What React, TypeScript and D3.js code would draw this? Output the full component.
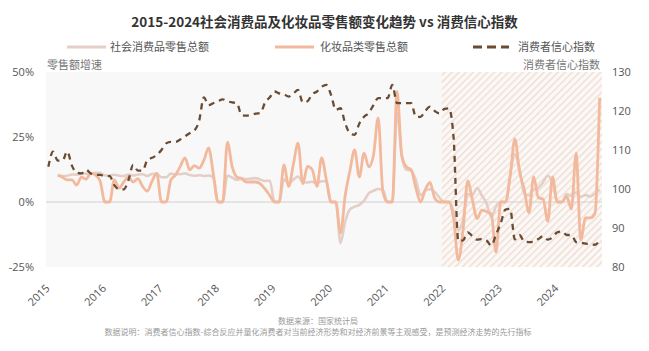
import React from 'react';
import * as d3 from 'd3';

const years = ['2015', '2016', '2017', '2018', '2019', '2020', '2021', '2022', '2023', '2024'];

// 社会消费品零售总额 当月同比 (%), monthly from 2015-01 to 2024-10
const retail: (number | null)[] = [
  null, null, 10.2, 10.0, 10.1, 10.6, 10.5, 10.8, 10.9, 11.0, 11.2, 11.1,
  10.2, 10.2, 10.5, 10.1, 10.0, 10.6, 10.2, 10.6, 10.7, 10.0, 10.8, 10.9,
  9.5, 9.5, 10.9, 10.7, 10.7, 11.0, 10.4, 10.1, 10.3, 10.0, 10.2, 9.4,
  0, 0, 10.1, 9.4, 8.5, 9.0, 8.8, 9.0, 9.2, 8.6, 8.1, 8.2,
  0, 0, 8.7, 7.2, 8.6, 9.8, 7.6, 7.5, 7.8, 7.2, 8.0, 8.0,
  0, 0, -15.8, -7.5, -2.8, -1.8, -1.1, 0.5, 3.3, 4.3, 5.0, 4.6,
  0, 0, 34.2, 17.7, 12.4, 12.1, 8.5, 2.5, 4.4, 4.9, 3.9, 1.7,
  0, 0, -3.5, -11.1, -6.7, 3.1, 2.7, 5.4, 2.5, -0.5, -5.9, -1.8,
  0, 0, 10.6, 18.4, 12.7, 3.1, 2.5, 4.6, 5.5, 7.6, 10.1, 7.4,
  0, 0, 3.1, 2.3, 3.7, 2.0, 2.7, 2.1, 3.2, 4.8,
];

// 化妆品类零售总额 当月同比 (%)
const cosmetics: (number | null)[] = [
  null, null, 10.4, 9.5, 8.5, 8.5, 6.5, 9.6, 8.8, 11.0, 10.4, 8.0,
  0, 0, 8.5, 5.3, 7.7, 9.6, 7.7, 9.0, 6.0, 4.2, 8.0, 11.0,
  0, 0, 8.5, 10.4, 13.7, 17.0, 12.4, 14.0, 13.0, 16.0, 20.8, 11.0,
  0, 0, 23.0, 13.7, 9.6, 9.0, 7.7, 7.7, 7.7, 7.0, 5.0, 2.5,
  0, 0, 14.3, 6.0, 14.5, 22.6, 7.0, 13.7, 12.4, 6.0, 17.0, 8.5,
  0, 0, -12.0, 2.5, 12.0, 20.0, 9.6, 18.8, 13.5, 18.0, 32.3, 4.0,
  0, 0, 42.5, 18.0, 13.5, 12.4, 5.3, 0, 4.8, 7.5, 1.5, 0,
  0, 0, -6.3, -22.3, -11.0, 8.1, 0.7, -6.4, -3.1, -3.7, -4.6, -19.3,
  0, 0, 9.6, 24.3, 11.7, 4.8, -4.1, 9.7, 1.6, 1.1, -7.4, 9.7,
  0, 0, 2.2, -2.7, 18.7, -14.6, -6.1, -6.1, -4.5, 40.1,
];

// 消费者信心指数
const confidence: number[] = [
  105.7, 109.6, 107.3, 107.3, 109.6, 106.0, 104.2, 104.0, 104.9, 104.0, 103.6, 103.6,
  103.3, 103.3, 101.0, 99.9, 99.9, 102.3, 106.2, 104.7, 104.7, 107.4, 108.0, 108.7,
  110.0, 111.7, 112.1, 112.1, 112.7, 113.5, 114.3, 115.0, 117.5, 123.5, 121.5, 122.0,
  122.5, 123.0, 122.5, 122.2, 122.0, 119.0, 118.8, 119.0, 119.3, 119.5, 122.2, 123.5,
  125.0, 124.5, 124.3, 123.7, 124.5, 125.4, 122.2, 122.5, 124.3, 125.0, 126.2, 126.7,
  124.1, 120.3, 120.7, 116.8, 114.3, 113.9, 116.8, 118.5, 119.5, 121.5, 123.3, 123.3,
  123.3, 126.7, 122.0, 122.0, 122.0, 122.0, 118.5, 118.5, 120.0, 121.1, 120.0, 119.4,
  120.5, 120.7, 113.2, 86.7, 86.8, 88.9, 87.9, 87.0, 87.2, 86.8, 85.5, 88.3,
  91.2, 94.7, 94.9, 87.1, 88.2, 86.5, 86.4, 86.5, 87.2, 87.9, 87.0, 87.6,
  88.9, 89.1, 88.2, 88.2, 86.4, 86.2, 86.0, 85.8, 85.7, 86.9,
];

const leftTicks = [-25, 0, 25, 50];
const rightTicks = [80, 90, 100, 110, 120, 130];

const legendItems = [
  { label: '社会消费品零售总额', key: 'retail' },
  { label: '化妆品类零售总额', key: 'cosmetics' },
  { label: '消费者信心指数', key: 'confidence' },
];

const C_RETAIL = '#e4cfc8';
const C_COS = '#f3b99d';
const C_CCI = '#6b4b32';
const CJK = '"Noto Sans CJK SC", "Noto Sans", sans-serif';
const NUM = '"Open Sans", "Noto Sans", sans-serif';

export default function App() {
  const W = 649;
  const H = 351;
  const left = 46;
  const right = 602;
  const top = 72;
  const bottom = 267;
  const n = confidence.length;

  const x = d3.scaleLinear().domain([-0.5, n - 0.5]).range([left, right]);
  const yL = d3.scaleLinear().domain([-25, 50]).range([bottom, top]);
  const yR = d3.scaleLinear().domain([80, 130]).range([bottom, top]);

  const lineL = d3
    .line<number | null>()
    .defined((d) => d !== null)
    .x((_, i) => x(i))
    .y((d) => yL(d as number))
    .curve(d3.curveMonotoneX);
  const lineR = d3
    .line<number>()
    .x((_, i) => x(i))
    .y((d) => yR(d))
    .curve(d3.curveMonotoneX);

  const hatchStart = x(84 - 0.5);

  const legendX = [67, 275, 473];
  const legendTextX = [110, 320, 518];

  return (
    <svg
      width={W}
      height={H}
      style={{ position: 'absolute', left: 0, top: 0, background: '#fff' }}
    >
      <defs>
        <pattern id="hatch" width="5" height="5" patternUnits="userSpaceOnUse" patternTransform="rotate(45)">
          <rect width="5" height="5" fill="#fbf8f6" />
          <line x1="0" y1="0" x2="0" y2="5" stroke="#eedcd2" strokeWidth="2.6" />
        </pattern>
      </defs>
      <rect x={0} y={0} width={W} height={H} fill="#fff" />
      <text x={W / 2} y={27} textAnchor="middle" fontFamily={CJK} fontSize={13.5} fontWeight={700} fill="#333">
        2015-2024社会消费品及化妆品零售额变化趋势  vs 消费信心指数
      </text>

      {legendItems.map((it, k) => (
        <g key={it.key}>
          {it.key === 'confidence' ? (
            <line x1={legendX[k]} x2={legendX[k] + 36} y1={47} y2={47} stroke={C_CCI} strokeWidth={3} strokeDasharray="9,5" />
          ) : (
            <line x1={legendX[k]} x2={legendX[k] + 39} y1={47} y2={47} stroke={it.key === 'retail' ? C_RETAIL : C_COS} strokeWidth={3} />
          )}
          <text x={legendTextX[k]} y={51} fontFamily={CJK} fontSize={11} fill="#555">
            {it.label}
          </text>
        </g>
      ))}

      <text x={47} y={69} fontFamily={CJK} fontSize={11} fill="#777">零售额增速</text>
      <text x={600} y={69} textAnchor="end" fontFamily={CJK} fontSize={11} fill="#777">消费者信心指数</text>

      <rect x={left} y={top} width={hatchStart - left} height={bottom - top} fill="#f8f8f8" />
      <rect x={hatchStart} y={top} width={right - hatchStart} height={bottom - top} fill="url(#hatch)" />

      <line x1={left} x2={right} y1={yL(0)} y2={yL(0)} stroke="#d0d0d0" strokeWidth={1} />

      {leftTicks.map((t) => (
        <text key={t} x={34} y={yL(t) + 4} textAnchor="end" fontFamily={NUM} fontSize={11} fill="#555">
          {t}%
        </text>
      ))}
      {rightTicks.map((t) => (
        <text key={t} x={612} y={yR(t) + 4} textAnchor="start" fontFamily={NUM} fontSize={11} fill="#555">
          {t}
        </text>
      ))}

      {years.map((yv, k) => {
        const px = x(k * 12) + 2;
        const py = 289;
        return (
          <text key={yv} x={px} y={py} transform={`rotate(-45 ${px} ${py})`} textAnchor="end" fontFamily={NUM} fontSize={11} fill="#555">
            {yv}
          </text>
        );
      })}

      <path d={lineL(retail) || ''} fill="none" stroke={C_RETAIL} strokeWidth={2.6} strokeLinejoin="round" />
      <path d={lineL(cosmetics) || ''} fill="none" stroke={C_COS} strokeWidth={2.8} strokeLinejoin="round" />
      <path d={lineR(confidence) || ''} fill="none" stroke={C_CCI} strokeWidth={2.3} strokeDasharray="6,5" />

      <text x={318} y={324} textAnchor="middle" fontFamily={CJK} fontSize={8} fill="#999">
        数据来源：国家统计局
      </text>
      <text x={318} y={335} textAnchor="middle" fontFamily={CJK} fontSize={8} fill="#999">
        数据说明：消费者信心指数-综合反应并量化消费者对当前经济形势和对经济前景等主观感受，是预测经济走势的先行指标
      </text>
    </svg>
  );
}
